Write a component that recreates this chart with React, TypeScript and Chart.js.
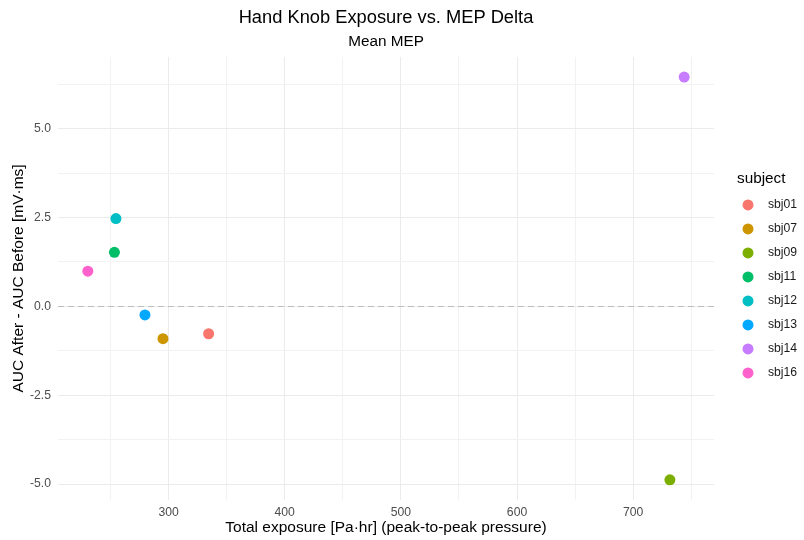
import React, { useEffect, useRef } from "react";
import { Chart, registerables } from "chart.js";

Chart.register(...registerables);

// Subjects and their measurements
const subjects = ["sbj01", "sbj07", "sbj09", "sbj11", "sbj12", "sbj13", "sbj14", "sbj16"];
const exposure = [334.5, 295.2, 731.6, 253.4, 254.7, 279.7, 743.9, 230.5];
const mepDelta = [-0.77, -0.91, -4.88, 1.52, 2.47, -0.24, 6.45, 0.99];
const colors = ["#F8766D", "#CD9600", "#7CAE00", "#00BE67", "#00BFC4", "#00A9FF", "#C77CFF", "#FF61CC"];

// Axis ticks (labelled) and grid lines
const xTicks = [300, 400, 500, 600, 700];
const xGrid = [250, 300, 350, 400, 450, 500, 550, 600, 650, 700, 750];
const yTicks = [-5, -2.5, 0, 2.5, 5];
const yGrid = [-5, -3.75, -2.5, -1.25, 0, 1.25, 2.5, 3.75, 5, 6.25];

const FONT = "'Liberation Sans', Arial, Helvetica, sans-serif";

function expandRange(values: number[]) {
  const lo = Math.min(...values);
  const hi = Math.max(...values);
  const pad = (hi - lo) * 0.05;
  return { min: lo - pad, max: hi + pad };
}

// Dashed horizontal reference line at y = 0
const zeroLine = {
  id: "zeroLine",
  beforeDatasetsDraw(chart: any) {
    const { ctx, chartArea, scales } = chart;
    const y = Math.round(scales.y.getPixelForValue(0)) + 0.5;
    ctx.save();
    ctx.strokeStyle = "#BDBDBD";
    ctx.lineWidth = 1;
    ctx.setLineDash([6, 4]);
    ctx.beginPath();
    ctx.moveTo(chartArea.left, y);
    ctx.lineTo(chartArea.right, y);
    ctx.stroke();
    ctx.restore();
  },
};

// Legend drawn to the right of the plot panel
const sideLegend = {
  id: "sideLegend",
  afterDraw(chart: any) {
    const { ctx, chartArea } = chart;
    const x0 = chartArea.right + 23;
    const mid = (chartArea.top + chartArea.bottom) / 2;
    const titleY = mid - 100;
    ctx.save();
    ctx.textBaseline = "middle";
    ctx.textAlign = "left";
    ctx.fillStyle = "#000000";
    ctx.font = `15.3px ${FONT}`;
    ctx.fillText("subject", x0, titleY);
    ctx.font = `12.2px ${FONT}`;
    chart.data.datasets.forEach((ds: any, i: number) => {
      const cy = titleY + 26.5 + i * 24;
      ctx.fillStyle = ds.backgroundColor;
      ctx.beginPath();
      ctx.arc(x0 + 11, cy, 5.5, 0, Math.PI * 2);
      ctx.fill();
      ctx.fillStyle = "#1A1A1A";
      ctx.fillText(ds.label, x0 + 31, cy);
    });
    ctx.restore();
  },
};

export default function App() {
  const canvasRef = useRef<HTMLCanvasElement | null>(null);

  useEffect(() => {
    const canvas = canvasRef.current;
    if (!canvas) return;
    const xr = expandRange(exposure);
    const yr = expandRange(mepDelta);

    const datasets = subjects.map((s, i) => ({
      label: s,
      data: [{ x: exposure[i], y: mepDelta[i] }],
      backgroundColor: colors[i],
      borderWidth: 0,
      pointRadius: 5.5,
      pointHoverRadius: 5.5,
    }));

    const chart = new Chart(canvas, {
      type: "scatter",
      data: { datasets },
      plugins: [zeroLine, sideLegend],
      options: {
        animation: false,
        responsive: false,
        maintainAspectRatio: false,
        layout: { padding: { left: 0, right: 90, top: 0, bottom: 0 } },
        plugins: {
          legend: { display: false },
          tooltip: { enabled: false },
          title: {
            display: true,
            text: "Hand Knob Exposure vs. MEP Delta",
            fullSize: false,
            color: "#000000",
            font: { family: FONT, size: 18.3, weight: "normal" },
            padding: { top: 7, bottom: 2 },
          },
          subtitle: {
            display: true,
            text: "Mean MEP",
            fullSize: false,
            color: "#000000",
            font: { family: FONT, size: 15.3, weight: "normal" },
            padding: { top: 2.1, bottom: 5.5 },
          },
        },
        scales: {
          x: {
            type: "linear",
            min: xr.min,
            max: xr.max,
            afterBuildTicks: (scale: any) => {
              scale.ticks = xGrid.map((v) => ({ value: v }));
            },
            afterFit: (scale: any) => {
              scale.height = 40;
            },
            ticks: {
              autoSkip: false,
              maxRotation: 0,
              padding: 5,
              color: "#4D4D4D",
              font: { family: FONT, size: 12.2 },
              callback: (v: any) => (xTicks.includes(Number(v)) ? String(v) : ""),
            },
            grid: {
              drawTicks: false,
              color: (c: any) => (xTicks.includes(c.tick?.value) ? "#EBEBEB" : "#F2F2F2"),
              lineWidth: 1,
            },
            border: { display: false },
            title: {
              display: true,
              text: "Total exposure [Pa·hr] (peak-to-peak pressure)",
              color: "#000000",
              font: { family: FONT, size: 15.5 },
              padding: { top: 0, bottom: 2.7 },
            },
          },
          y: {
            type: "linear",
            min: yr.min,
            max: yr.max,
            afterBuildTicks: (scale: any) => {
              scale.ticks = yGrid.map((v) => ({ value: v }));
            },
            afterFit: (scale: any) => {
              scale.width = 58;
            },
            ticks: {
              autoSkip: false,
              padding: 7,
              color: "#4D4D4D",
              font: { family: FONT, size: 12.2 },
              callback: (v: any) => (yTicks.includes(Number(v)) ? Number(v).toFixed(1) : ""),
            },
            grid: {
              drawTicks: false,
              color: (c: any) => (yTicks.includes(c.tick?.value) ? "#EBEBEB" : "#F2F2F2"),
              lineWidth: 1,
            },
            border: { display: false },
            title: {
              display: true,
              text: "AUC After - AUC Before [mV·ms]",
              color: "#000000",
              font: { family: FONT, size: 15.5 },
              padding: { top: 9.5, bottom: 0 },
            },
          },
        },
      },
    } as any);

    return () => chart.destroy();
  }, []);

  return (
    <div style={{ position: "fixed", left: 0, top: 0, width: 804, height: 540, background: "#FFFFFF" }}>
      <canvas ref={canvasRef} width={804} height={540} style={{ display: "block", width: 804, height: 540 }} />
    </div>
  );
}
